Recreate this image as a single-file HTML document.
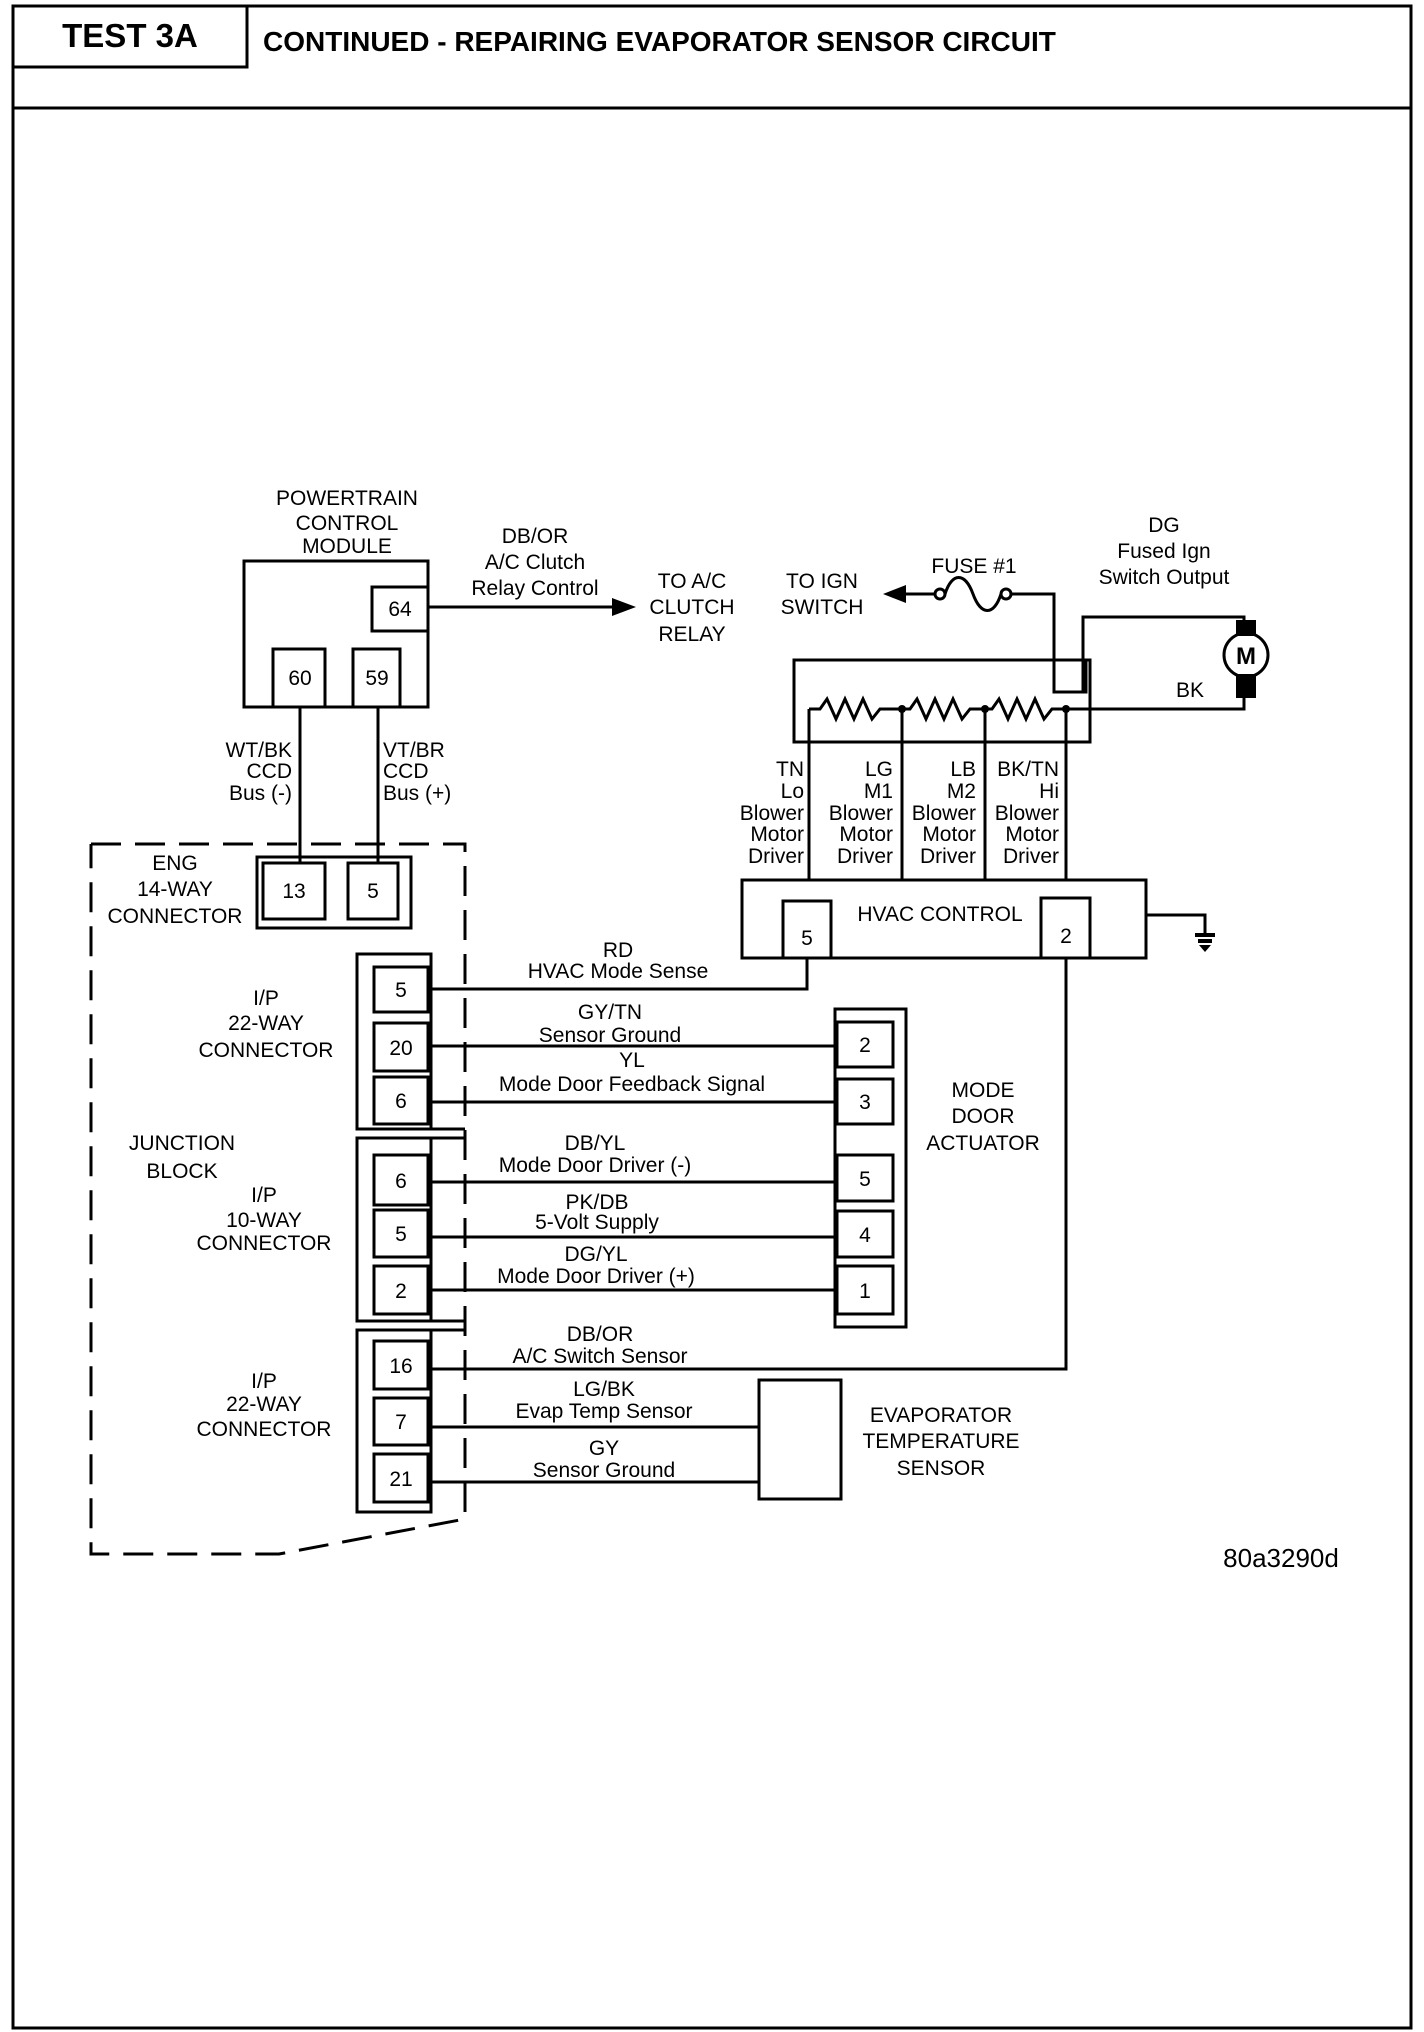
<!DOCTYPE html>
<html><head><meta charset="utf-8"><style>
html,body{margin:0;padding:0;background:#fff}
svg{display:block}
text{font-family:"Liberation Sans",Arial,sans-serif;font-size:21px;fill:#000}
.b{font-weight:bold}
</style></head><body>
<svg width="1424" height="2032" viewBox="0 0 1424 2032" xmlns="http://www.w3.org/2000/svg">
<g fill="none" stroke="#000" stroke-width="3">
<rect x="13" y="6" width="1398" height="2022"/>
<rect x="13" y="6" width="234" height="61"/>
<line x1="13" y1="108" x2="1411" y2="108"/>
<rect x="244" y="561" width="184" height="146"/>
<rect x="372" y="587" width="56" height="44"/>
<rect x="273" y="649" width="52" height="58"/>
<rect x="353" y="649" width="47" height="58"/>
<line x1="300" y1="707" x2="300" y2="863"/>
<line x1="378" y1="707" x2="378" y2="863"/>
<line x1="428" y1="607" x2="615" y2="607"/>
<g stroke-dasharray="30 14" stroke-width="3">
<polyline points="91,844 465,844 465,1519 279,1554 91,1554 91,844"/>
</g>
<rect x="257" y="857" width="154" height="71"/>
<rect x="263" y="863" width="62" height="56"/>
<rect x="348" y="863" width="50" height="56"/>
<rect x="357" y="954" width="74" height="175"/>
<rect x="357" y="1138" width="74" height="183"/>
<rect x="357" y="1330" width="74" height="182"/>
<line x1="357" y1="1129" x2="465" y2="1129"/>
<line x1="357" y1="1138" x2="465" y2="1138"/>
<line x1="357" y1="1321" x2="465" y2="1321"/>
<line x1="357" y1="1330" x2="465" y2="1330"/>
<rect x="374" y="967" width="54" height="45"/>
<rect x="374" y="1023" width="54" height="48"/>
<rect x="374" y="1077" width="54" height="47"/>
<rect x="374" y="1155" width="54" height="50"/>
<rect x="374" y="1210" width="54" height="47"/>
<rect x="374" y="1266" width="54" height="48"/>
<rect x="374" y="1341" width="54" height="48"/>
<rect x="374" y="1398" width="54" height="47"/>
<rect x="374" y="1454" width="54" height="48"/>
<polyline points="428,989 807,989 807,958"/>
<line x1="428" y1="1046" x2="837" y2="1046"/>
<line x1="428" y1="1102" x2="837" y2="1102"/>
<line x1="428" y1="1182" x2="837" y2="1182"/>
<line x1="428" y1="1237" x2="837" y2="1237"/>
<line x1="428" y1="1290" x2="837" y2="1290"/>
<polyline points="428,1369 1066,1369 1066,958"/>
<line x1="428" y1="1427" x2="759" y2="1427"/>
<line x1="428" y1="1482" x2="759" y2="1482"/>
<rect x="835" y="1009" width="71" height="318"/>
<rect x="837" y="1022" width="56" height="45"/>
<rect x="837" y="1079" width="56" height="45"/>
<rect x="837" y="1155" width="56" height="46"/>
<rect x="837" y="1211" width="56" height="46"/>
<rect x="837" y="1266" width="56" height="48"/>
<rect x="759" y="1380" width="82" height="119"/>
<rect x="742" y="880" width="404" height="78"/>
<rect x="783" y="901" width="48" height="57"/>
<rect x="1041" y="898" width="49" height="60"/>
<polyline points="1146,915 1205,915 1205,935"/>
<rect x="794" y="660" width="296" height="82"/>
<rect x="1054" y="660" width="32" height="32"/>
<line x1="809" y1="709" x2="809" y2="880"/>
<line x1="902" y1="709" x2="902" y2="880"/>
<line x1="985" y1="709" x2="985" y2="880"/>
<line x1="1066" y1="709" x2="1066" y2="880"/>
<polyline points="809,709 820,709 827,699 836,719 845,699 854,719 863,699 872,719 880,709 902,709 910,709 917,699 926,719 935,699 944,719 953,699 962,719 970,709 985,709 992,709 999,699 1008,719 1017,699 1026,719 1035,699 1044,719 1052,709 1066,709 1244,709 1244,695"/>
<line x1="900" y1="594" x2="935" y2="594"/>
<path d="M945,594 C952,572 965,572 973,594 C981,616 994,616 1001,594"/>
<polyline points="1011,594 1054,594 1054,692"/>
<polyline points="1083,692 1083,617 1244,617 1244,620"/>
<circle cx="940" cy="594" r="5"/>
<circle cx="1006" cy="594" r="5"/>
<circle cx="1246" cy="655" r="22"/>
</g>
<g fill="#000">
<polygon points="636,607 612,598 612,616"/>
<polygon points="883,594 906,585 906,603"/>
<rect x="1236" y="620" width="20" height="16"/>
<rect x="1236" y="674" width="20" height="24"/>
<circle cx="902" cy="709" r="4"/>
<circle cx="985" cy="709" r="4"/>
<circle cx="1066" cy="709" r="4"/>
<rect x="1195" y="933" width="20" height="4"/>
<rect x="1198" y="939" width="14" height="4"/>
<polygon points="1199,945 1211,945 1205,952"/>
</g>
<text x="130" y="47" class="b" style="font-size:33px" text-anchor="middle">TEST 3A</text>
<text x="263" y="51" class="b" style="font-size:28px">CONTINUED - REPAIRING EVAPORATOR SENSOR CIRCUIT</text>
<text x="1246" y="664" class="b" style="font-size:24px" text-anchor="middle">M</text>
<g text-anchor="middle">
<text x="347" y="505">POWERTRAIN</text><text x="347" y="530">CONTROL</text><text x="347" y="553">MODULE</text>
<text x="400" y="616">64</text><text x="300" y="685">60</text><text x="377" y="685">59</text>
<text x="535" y="543">DB/OR</text><text x="535" y="569">A/C Clutch</text><text x="535" y="595">Relay Control</text>
<text x="692" y="588">TO A/C</text><text x="692" y="614">CLUTCH</text><text x="692" y="641">RELAY</text>
<text x="822" y="588">TO IGN</text><text x="822" y="614">SWITCH</text>
<text x="974" y="573">FUSE #1</text>
<text x="1164" y="532">DG</text><text x="1164" y="558">Fused Ign</text><text x="1164" y="584">Switch Output</text>
<text x="1190" y="697">BK</text>
<text x="940" y="921">HVAC CONTROL</text>
<text x="807" y="945">5</text><text x="1066" y="943">2</text>
<text x="175" y="870">ENG</text><text x="175" y="896">14-WAY</text><text x="175" y="923">CONNECTOR</text>
<text x="294" y="898">13</text><text x="373" y="898">5</text>
<text x="266" y="1005">I/P</text><text x="266" y="1030">22-WAY</text><text x="266" y="1057">CONNECTOR</text>
<text x="182" y="1150">JUNCTION</text><text x="182" y="1178">BLOCK</text>
<text x="264" y="1202">I/P</text><text x="264" y="1227">10-WAY</text><text x="264" y="1250">CONNECTOR</text>
<text x="264" y="1388">I/P</text><text x="264" y="1411">22-WAY</text><text x="264" y="1436">CONNECTOR</text>
<text x="401" y="997">5</text><text x="401" y="1055">20</text><text x="401" y="1108">6</text>
<text x="401" y="1188">6</text><text x="401" y="1241">5</text><text x="401" y="1298">2</text>
<text x="401" y="1373">16</text><text x="401" y="1429">7</text><text x="401" y="1486">21</text>
<text x="865" y="1052">2</text><text x="865" y="1109">3</text><text x="865" y="1186">5</text><text x="865" y="1242">4</text><text x="865" y="1298">1</text>
<text x="618" y="957">RD</text><text x="618" y="978">HVAC Mode Sense</text>
<text x="610" y="1019">GY/TN</text><text x="610" y="1042">Sensor Ground</text>
<text x="632" y="1067">YL</text><text x="632" y="1091">Mode Door Feedback Signal</text>
<text x="595" y="1150">DB/YL</text><text x="595" y="1172">Mode Door Driver (-)</text>
<text x="597" y="1209">PK/DB</text><text x="597" y="1229">5-Volt Supply</text>
<text x="596" y="1261">DG/YL</text><text x="596" y="1283">Mode Door Driver (+)</text>
<text x="600" y="1341">DB/OR</text><text x="600" y="1363">A/C Switch Sensor</text>
<text x="604" y="1396">LG/BK</text><text x="604" y="1418">Evap Temp Sensor</text>
<text x="604" y="1455">GY</text><text x="604" y="1477">Sensor Ground</text>
<text x="983" y="1097">MODE</text><text x="983" y="1123">DOOR</text><text x="983" y="1150">ACTUATOR</text>
<text x="941" y="1422">EVAPORATOR</text><text x="941" y="1448">TEMPERATURE</text><text x="941" y="1475">SENSOR</text>
<text x="1281" y="1567" style="font-size:26px">80a3290d</text>
</g>
<g text-anchor="end">
<text x="292" y="757">WT/BK</text><text x="292" y="778">CCD</text><text x="292" y="800">Bus (-)</text>
<text x="804" y="776">TN</text><text x="804" y="798">Lo</text><text x="804" y="820">Blower</text><text x="804" y="841">Motor</text><text x="804" y="863">Driver</text>
<text x="893" y="776">LG</text><text x="893" y="798">M1</text><text x="893" y="820">Blower</text><text x="893" y="841">Motor</text><text x="893" y="863">Driver</text>
<text x="976" y="776">LB</text><text x="976" y="798">M2</text><text x="976" y="820">Blower</text><text x="976" y="841">Motor</text><text x="976" y="863">Driver</text>
<text x="1059" y="776">BK/TN</text><text x="1059" y="798">Hi</text><text x="1059" y="820">Blower</text><text x="1059" y="841">Motor</text><text x="1059" y="863">Driver</text>
</g>
<text x="383" y="757">VT/BR</text><text x="383" y="778">CCD</text><text x="383" y="800">Bus (+)</text>
</svg>
</body></html>
